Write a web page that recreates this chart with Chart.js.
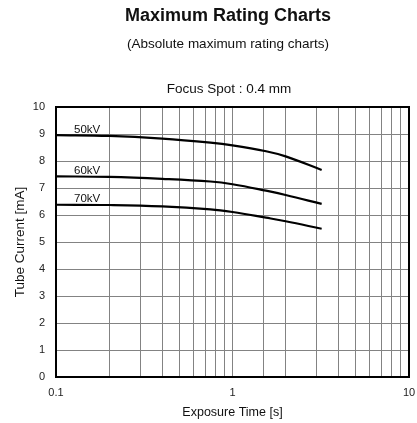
<!DOCTYPE html>
<html>
<head>
<meta charset="utf-8">
<script src="https://cdn.jsdelivr.net/npm/chart.js@4/dist/chart.umd.min.js"></script>
<style>
    html, body { margin: 0; padding: 0; background: #fff; }
    #wrap { width: 417px; height: 423px; }
</style>
</head>
<body>
<div id="wrap"><canvas id="myChart" width="417" height="423"></canvas></div>
<script>
// exposure time [s] and tube current [mA]
let times = [0.1, 0.2, 0.4, 0.75, 1, 1.55, 2, 3.2];
let kv50 = [8.96, 8.93, 8.83, 8.68, 8.58, 8.36, 8.17, 7.67];
let kv60 = [7.43, 7.41, 7.34, 7.24, 7.14, 6.90, 6.74, 6.41];
let kv70 = [6.38, 6.37, 6.32, 6.21, 6.11, 5.90, 5.77, 5.49];
let seriesNames = ['50kV', '60kV', '70kV'];
let xLabelTicks = [0.1, 1, 10];

Chart.defaults.font.family = '"Liberation Sans", Arial, sans-serif';
Chart.defaults.color = '#222';

function toPoints(ys) {
    return ys.map((y, i) => ({ x: times[i], y: y }));
}

// titles, curve labels and the plot frame
const decorPlugin = {
    id: 'decor',
    afterDraw(chart) {
        let c = chart.ctx;
        let area = chart.chartArea;
        let xs = chart.scales.x;
        let ys = chart.scales.y;
        c.save();
        c.fillStyle = '#111';
        c.textAlign = 'center';
        c.textBaseline = 'middle';
        c.font = 'bold 18px "Liberation Sans", Arial, sans-serif';
        c.fillText('Maximum Rating Charts', 228, 16);
        c.font = '13.5px "Liberation Sans", Arial, sans-serif';
        c.fillText('(Absolute maximum rating charts)', 228, 44);
        c.fillText('Focus Spot : 0.4 mm', 229, 89);

        // curve names just above each line
        c.font = '11.5px "Liberation Sans", Arial, sans-serif';
        c.textAlign = 'left';
        c.textBaseline = 'bottom';
        chart.data.datasets.forEach((ds) => {
            let px = xs.getPixelForValue(0.1265);
            let py = ys.getPixelForValue(ds.data[1].y);
            c.fillText(ds.label, px, py);
        });

        c.strokeStyle = '#000';
        c.lineWidth = 2;
        c.strokeRect(area.left, area.top, area.right - area.left, area.bottom - area.top);
        c.restore();
    }
};

let ctx = document.getElementById('myChart');
let myChart = new Chart(ctx, {
    type: 'line',
    data: {
        datasets: [
            { label: seriesNames[0], data: toPoints(kv50) },
            { label: seriesNames[1], data: toPoints(kv60) },
            { label: seriesNames[2], data: toPoints(kv70) }
        ].map(ds => Object.assign(ds, {
            borderColor: '#000',
            borderWidth: 2.2,
            pointRadius: 0,
            fill: false,
            tension: 0.4
        }))
    },
    options: {
        responsive: false,
        animation: false,
        layout: {
            padding: { top: 107, right: 8, left: 0, bottom: 0 }
        },
        scales: {
            x: {
                type: 'logarithmic',
                min: 0.1,
                max: 10,
                afterFit: (scale) => {
                    scale.height = 46;
                    scale.paddingLeft = 0;
                    scale.paddingRight = 0;
                },
                grid: { color: '#838383', lineWidth: 1, drawTicks: false },
                border: { display: false },
                ticks: {
                    autoSkip: false,
                    maxRotation: 0,
                    padding: 9,
                    font: { size: 11 },
                    callback: (value) => xLabelTicks.some(t => Math.abs(t - value) < 1e-9) ? String(value) : ''
                },
                title: {
                    display: true,
                    text: 'Exposure Time [s]',
                    font: { size: 12.5 },
                    color: '#111',
                    padding: { top: 0, bottom: 3 }
                }
            },
            y: {
                min: 0,
                max: 10,
                afterFit: (scale) => { scale.width = 56; },
                grid: { color: '#838383', lineWidth: 1, drawTicks: false },
                border: { display: false },
                ticks: {
                    stepSize: 1,
                    padding: 11,
                    font: { size: 11 }
                },
                title: {
                    display: true,
                    text: 'Tube Current [mA]',
                    font: { size: 13.5 },
                    color: '#111',
                    padding: { top: 12, bottom: 0 }
                }
            }
        },
        plugins: {
            legend: { display: false },
            tooltip: { enabled: false }
        }
    },
    plugins: [decorPlugin]
});
</script>
</body>
</html>
